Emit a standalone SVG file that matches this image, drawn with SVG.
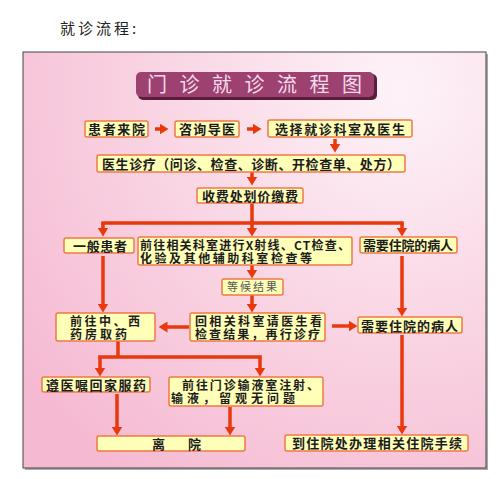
<svg xmlns="http://www.w3.org/2000/svg" width="500" height="479" viewBox="0 0 500 479">
<defs>
<radialGradient id="bg" cx="400" cy="90" r="480" gradientUnits="userSpaceOnUse">
<stop offset="0" stop-color="#fdf3f8"/>
<stop offset="0.45" stop-color="#fad8e6"/>
<stop offset="1" stop-color="#f5b9d1"/>
</radialGradient>
<marker id="ah" viewBox="0 0 9 11" refX="0.5" refY="5.5" markerWidth="9" markerHeight="11" markerUnits="userSpaceOnUse" orient="auto">
<path d="M0,0 L9,5.5 L0,11 z" fill="#e8380c"/>
</marker>
<style>
.box{fill:#ffffb8;stroke:#f07848;stroke-width:1.5}
.t{font-family:"Noto Sans CJK SC","Noto Sans",sans-serif;font-size:13px;font-weight:700;fill:#1c1c1c}
.t2{font-family:"Noto Sans CJK SC","Noto Sans",sans-serif;font-size:12px;font-weight:700;fill:#1c1c1c}
.c{stroke:#e8380c;stroke-width:3.5;fill:none}
.a{stroke:#e8380c;stroke-width:3.5;fill:none;marker-end:url(#ah)}
</style>
</defs>
<rect width="500" height="479" fill="#ffffff"/>
<text x="60" y="34" font-family="'Noto Sans CJK SC',sans-serif" font-size="15" letter-spacing="3" fill="#222">就诊流程:</text>
<rect x="25" y="54" width="463" height="416" fill="#aaaaaa"/>
<rect x="23" y="52" width="463" height="416" fill="url(#bg)" stroke="#444" stroke-width="1"/>
<g id="title">
<rect x="138" y="74" width="239" height="26" rx="5" fill="#5a1e3c"/>
<rect x="136" y="72" width="238" height="25" rx="5" fill="#9c4170"/>
<text x="147 179.5 212 244.5 277 309.5 342" y="92" font-family="'Noto Sans CJK SC',sans-serif" font-size="20" fill="#f6dcea">门诊就诊流程图</text>
</g>
<g id="connectors">
<path class="a" d="M155,129 H160"/>
<path class="a" d="M247,129 H253"/>
<path class="a" d="M335,139 V144"/>
<path class="a" d="M252,172 V177"/>
<path class="c" d="M252,203 V223 M101.25,223 H403.75"/>
<path class="a" d="M103,223 V228"/>
<path class="a" d="M252,223 V228"/>
<path class="a" d="M402,223 V228"/>
<path class="a" d="M103,256 V304"/>
<path class="a" d="M252,265 V270"/>
<path class="a" d="M252,295 V304"/>
<path class="a" d="M402,256 V308"/>
<path class="a" d="M189,327 H167"/>
<path class="a" d="M332,326 H349"/>
<path class="c" d="M118,341 V357 M98.25,357 H261.75"/>
<path class="a" d="M100,357 V368"/>
<path class="a" d="M260,357 V368"/>
<path class="a" d="M117,394 V427"/>
<path class="a" d="M230,407 V427"/>
<path class="a" d="M402,335 V426"/>
</g>
<g id="n1"><rect class="box" x="85" y="121" width="63" height="16" rx="2"/><text class="t" x="88" y="134" textLength="57">患者来院</text></g>
<g id="n2"><rect class="box" x="175" y="121" width="64" height="16" rx="2"/><text class="t" x="179" y="134" textLength="56">咨询导医</text></g>
<g id="n3"><rect class="box" x="268" y="120" width="144" height="17" rx="2"/><text class="t" x="275" y="133.5" textLength="130">选择就诊科室及医生</text></g>
<g id="n4"><rect class="box" x="97" y="155" width="308" height="17" rx="2"/><text class="t" x="102" y="168.5" textLength="298">医生诊疗（问诊、检查、诊断、开检查单、处方）</text></g>
<g id="n5"><rect class="box" x="197" y="188" width="106" height="15" rx="2"/><text class="t" x="202" y="200.5" textLength="96">收费处划价缴费</text></g>
<g id="n6"><rect class="box" x="64" y="238" width="70" height="15" rx="2"/><text class="t" x="73" y="250.5" textLength="54">一般患者</text></g>
<g id="n7"><rect class="box" x="138" y="237" width="214" height="28" rx="2"/><text class="t2"><tspan x="140" y="249.5" textLength="210">前往相关科室进行X射线、CT检查、</tspan><tspan x="140" y="262.5" textLength="172">化验及其他辅助科室检查等</tspan></text></g>
<g id="n8"><rect class="box" x="360" y="237" width="97" height="16" rx="2"/><text class="t" x="363" y="250" textLength="90">需要住院的病人</text></g>
<g id="n9"><rect class="box" x="222" y="279" width="61" height="16" rx="2"/><text x="227" y="291" textLength="50" font-family="'Noto Sans CJK SC',sans-serif" font-size="11" fill="#555">等候结果</text></g>
<g id="n10"><rect class="box" x="56" y="313" width="99" height="28" rx="2"/><text class="t2"><tspan x="70" y="325.5" textLength="70">前往中、西</tspan><tspan x="70" y="338.5" textLength="57">药房取药</tspan></text></g>
<g id="n11"><rect class="box" x="190" y="313" width="135" height="28" rx="2"/><text class="t2"><tspan x="195" y="325.5" textLength="127">回相关科室请医生看</tspan><tspan x="195" y="338.5" textLength="125">检查结果，再行诊疗</tspan></text></g>
<g id="n12"><rect class="box" x="358" y="317" width="104" height="16" rx="2"/><text class="t" x="361" y="330.5" textLength="97">需要住院的病人</text></g>
<g id="n13"><rect class="box" x="42" y="377" width="108" height="15" rx="2"/><text class="t" x="46" y="389.5" textLength="100">遵医嘱回家服药</text></g>
<g id="n14"><rect class="box" x="169" y="377" width="154" height="29" rx="2"/><text class="t2"><tspan x="182" y="390" textLength="137">前往门诊输液室注射、</tspan><tspan x="171" y="403" textLength="124">输液，留观无问题</tspan></text></g>
<g id="n15"><rect class="box" x="97" y="436" width="148" height="15" rx="2"/><text class="t" x="152" y="448.5">离</text><text class="t" x="188" y="448.5">院</text></g>
<g id="n16"><rect class="box" x="285" y="435" width="183" height="16" rx="2"/><text class="t" x="292" y="448" textLength="170">到住院处办理相关住院手续</text></g>
</svg>
